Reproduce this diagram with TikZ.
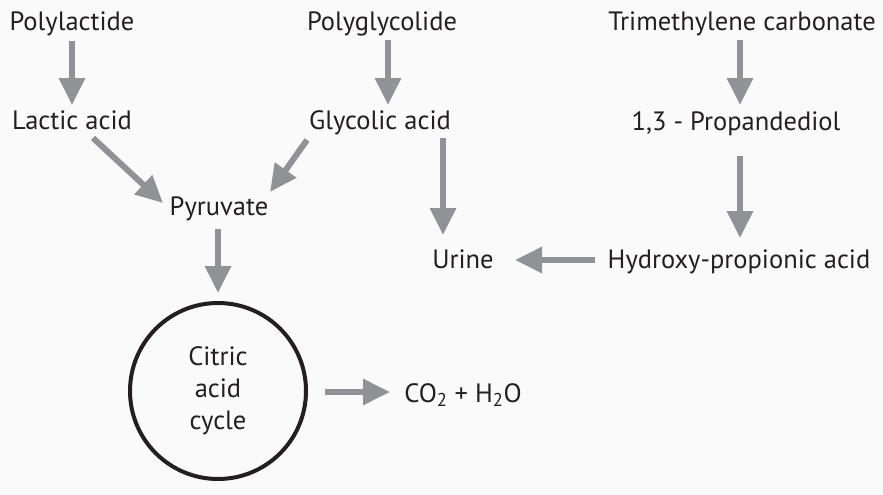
\documentclass[tikz,border=0pt]{standalone}
\usepackage{fontspec}
\setmainfont{PT Sans}
\usepackage{xcolor}
\usepackage{tikz}
\usetikzlibrary{arrows.meta,backgrounds}
\definecolor{arrowgray}{RGB}{145,146,150}
\definecolor{inkblack}{RGB}{35,31,32}
\definecolor{paper}{RGB}{250,250,250}

\begin{document}
\begin{tikzpicture}[x=1pt,y=-1pt,
    chem/.style={anchor=base, inner sep=0pt, text=inkblack, font=\fontsize{26.5}{32}\selectfont},
    flow/.style={draw=arrowgray, line width=6pt, -{Triangle[length=27pt,width=25pt]}}]

    \fill[paper] (0,0) rectangle (883,495);
    \useasboundingbox (0,0) rectangle (883,495);

% the polymers

    \node[chem] (polylactide) at (72,31) {Polylactide};
    \node[chem] (polyglycolide) at (382,31) {Polyglycolide};
    \node[chem] (trimethylene) at (742,31) {Trimethylene carbonate};

% the degradation products

    \node[chem] (lactic) at (72,129) {Lactic acid};
    \node[chem] (glycolic) at (380,129) {Glycolic acid};
    \node[chem] (propandediol) at (736,130) {1,3 - Propandediol};
    \node[chem] (pyruvate) at (219,215) {Pyruvate};
    \node[chem] (urine) at (463,268) {Urine};
    \node[chem] (hydroxy) at (739,268) {Hydroxy-propionic acid};
    \node[chem] (co2) at (463,402) {CO\textsubscript{2} + H\textsubscript{2}O};

% the cycle

    \node[draw=inkblack, line width=4pt, circle, minimum size=176pt, inner sep=0pt,
      align=center, text=inkblack, font=\fontsize{26.5}{32}\selectfont] (cycle) at (218,391) {Citric\\acid\\cycle};

% the arrows

    \draw[flow] ([shift={(0,10)}]polylactide.base) -- ([shift={(0,-24)}]lactic.base);
    \draw[flow] ([shift={(6,9)}]polyglycolide.base) -- ([shift={(8,-24)}]glycolic.base);
    \draw[flow] ([shift={(-2,9)}]trimethylene.base) -- ([shift={(4,-25)}]propandediol.base);
    \draw[flow] ([shift={(4,26)}]propandediol.base) -- ([shift={(1,-30)}]hydroxy.base);
    \draw[flow] ([shift={(63,9)}]glycolic.base) -- ([shift={(-20,-33)}]urine.base);
    \draw[flow] ([shift={(21,9)}]lactic.base) -- ([shift={(-56,-12)}]pyruvate.base);
    \draw[flow] ([shift={(-73,11)}]glycolic.base) -- ([shift={(51,-23)}]pyruvate.base);
    \draw[flow] ([shift={(-144,-8)}]hydroxy.base) -- ([shift={(52,-8)}]urine.base);
    \draw[flow] ([shift={(-1,14)}]pyruvate.base) -- ([shift={(0,-8)}]cycle.north);
    \draw[flow] ([shift={(17,1)}]cycle.east) -- ([shift={(-73,-10)}]co2.base);

\end{tikzpicture}
\end{document}
